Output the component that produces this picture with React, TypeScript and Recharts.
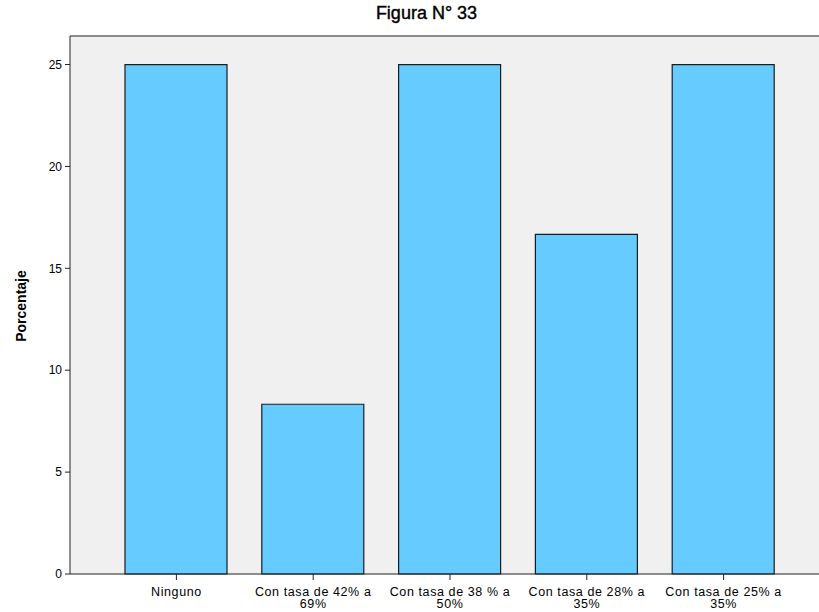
import React from 'react';
import { BarChart, Bar, XAxis, YAxis, CartesianGrid, ReferenceLine } from 'recharts';

const categories = [
  'Ninguno',
  'Con tasa de 42% a\n69%',
  'Con tasa de 38 % a\n50%',
  'Con tasa de 28% a\n35%',
  'Con tasa de 25% a\n35%',
];
const percentages = [25, 8.33, 25, 16.67, 25];
const yTicks = [0, 5, 10, 15, 20, 25];
const yMax = 26.4;

const data = categories.map((name, i) => ({ name, value: percentages[i] }));

const font = '"Liberation Sans", Arial, sans-serif';

function CategoryTick(props: any) {
  const { x, y, payload } = props;
  const lines = String(payload.value).split('\n');
  return (
    <g transform={`translate(${x},${y})`}>
      <text textAnchor="middle" fontSize={12.5} fontFamily={font} fill="#000" letterSpacing={0.6}>
        {lines.map((line, i) => (
          <tspan key={i} x={0} dy={i === 0 ? 14 : 12}>
            {line}
          </tspan>
        ))}
      </text>
    </g>
  );
}

export default function App() {
  return (
    <div style={{ position: 'fixed', left: 0, top: 0, width: 819, height: 612, overflow: 'hidden', background: '#fff' }}>
      <div
        style={{
          position: 'absolute',
          left: 0,
          right: 0,
          top: 3,
          paddingLeft: 34,
          textAlign: 'center',
          fontFamily: font,
          fontSize: 18,
          WebkitTextStroke: '0.4px #000',
        }}
      >
        Figura N° 33
      </div>
      <div
        style={{
          position: 'absolute',
          left: 21,
          top: 306,
          transform: 'translate(-50%, -50%) rotate(-90deg)',
          fontFamily: font,
          fontSize: 14,
          fontWeight: 'bold',
        }}
      >
        Porcentaje
      </div>
      <BarChart
        width={840}
        height={612}
        data={data}
        margin={{ top: 36, right: 10, bottom: 0, left: 0 }}
        barSize={102}
      >
        <CartesianGrid fill="#f0f0f0" horizontal={false} vertical={false} />
        <ReferenceLine y={yMax} stroke="#8a8a8a" strokeWidth={2} />
        <XAxis
          dataKey="name"
          interval={0}
          height={38}
          padding={{ left: 38, right: 38 }}
          stroke="#222"
          tickSize={6}
          tickLine={{ stroke: '#222' }}
          tick={<CategoryTick />}
        />
        <YAxis
          width={70}
          domain={[0, yMax]}
          ticks={yTicks}
          tickSize={5}
          tickMargin={3}
          stroke="#222"
          tick={{ fontSize: 12, fontFamily: font, fill: '#000' }}
        />
        <Bar dataKey="value" fill="#66ccff" stroke="#1c1c1c" strokeWidth={1.2} isAnimationActive={false} />
      </BarChart>
    </div>
  );
}
